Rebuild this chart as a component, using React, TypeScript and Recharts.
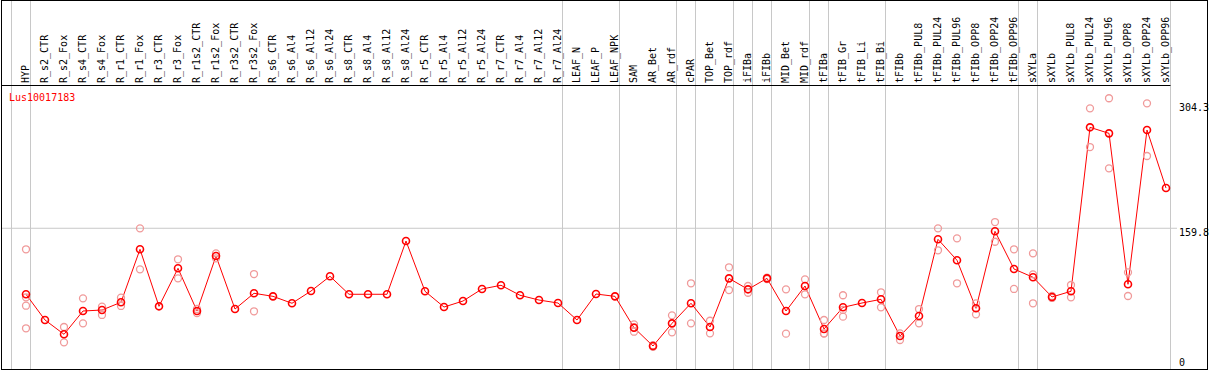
import React from 'react';
import { ComposedChart, Line, XAxis, YAxis, ReferenceLine } from 'recharts';

const title = 'Lus10017183';

const categories = [
  'HYP', 'R_s2_CTR', 'R_s2_Fox', 'R_s4_CTR', 'R_s4_Fox', 'R_r1_CTR', 'R_r1_Fox', 'R_r3_CTR', 'R_r3_Fox',
  'R_r1s2_CTR', 'R_r1s2_Fox', 'R_r3s2_CTR', 'R_r3s2_Fox', 'R_s6_CTR', 'R_s6_Al4', 'R_s6_Al12', 'R_s6_Al24',
  'R_s8_CTR', 'R_s8_Al4', 'R_s8_Al12', 'R_s8_Al24', 'R_r5_CTR', 'R_r5_Al4', 'R_r5_Al12', 'R_r5_Al24',
  'R_r7_CTR', 'R_r7_Al4', 'R_r7_Al12', 'R_r7_Al24', 'LEAF_N', 'LEAF_P', 'LEAF_NPK', 'SAM', 'AR_Bet', 'AR_rdf',
  'cPAR', 'TOP_Bet', 'TOP_rdf', 'iFIBa', 'iFIBb', 'MID_Bet', 'MID_rdf', 'tFIBa', 'tFIB_Gr', 'tFIB_Li', 'tFIB_Bi',
  'tFIBb', 'tFIBb_PUL8', 'tFIBb_PUL24', 'tFIBb_PUL96', 'tFIBb_OPP8', 'tFIBb_OPP24', 'tFIBb_OPP96', 'sXYLa',
  'sXYLb', 'sXYLb_PUL8', 'sXYLb_PUL24', 'sXYLb_PUL96', 'sXYLb_OPP8', 'sXYLb_OPP24', 'sXYLb_OPP96',
];

const means = [
  86.4, 57.8, 41.9, 67.8, 68.9, 77.5, 136.4, 73.0, 115.3, 67.8, 128.9, 70.0, 87.5, 84.1, 76.4, 90.0, 106.4,
  86.4, 86.4, 86.4, 145.6, 89.7, 72.2, 78.9, 92.3, 96.4, 85.3, 80.0, 76.7, 57.8, 86.7, 84.1, 49.2, 28.9, 54.1,
  76.4, 50.0, 104.1, 91.9, 104.1, 67.8, 95.6, 47.8, 71.9, 76.7, 80.8, 40.0, 62.2, 147.5, 124.2, 70.8, 156.4,
  114.5, 105.3, 83.4, 89.7, 272.0, 265.3, 97.5, 269.0, 204.5,
];

// replicate measurements per category
const replicates: number[][] = [
  [136.4, 83.0, 73.7, 48.6], [], [50.0, 33.0], [81.9, 54.1], [72.6, 63.4], [82.6, 73.4], [159.7, 114.1], [],
  [125.3, 104.1], [70.1, 65.5], [131.9, 126.4], [], [108.9, 67.5], [], [], [], [],
  [], [], [], [], [], [], [], [],
  [], [], [], [], [], [], [], [53.0, 44.8, 49.8], [29.8, 28.0], [63.0, 44.1],
  [98.6, 54.1], [57.0, 43.0], [116.4, 91.1], [95.6, 88.1], [104.9, 103.3], [91.9, 42.6], [103.0, 86.4],
  [57.8, 43.0, 42.6], [85.3, 61.5, 69.0], [], [88.6, 71.9],
  [43.0, 35.6], [70.0, 54.1], [159.7, 135.3], [148.6, 98.6], [76.4, 64.1], [166.7, 144.8], [136.4, 92.3],
  [131.9, 76.4, 108.6], [84.5, 82.3], [96.7, 83.0], [293.1, 250.1], [304.3, 226.4], [110.8, 84.5],
  [298.7, 240.1], [],
];

// group boundaries: drawn after these category indices
const groupEnds = [-1, 0, 28, 31, 34, 35, 37, 38, 39, 41, 42, 45, 52, 53, 60];

const yTicks = [0, 159.8, 304.3];
const yMax = 318.5;

const data = categories.map((c, i) => {
  const row: any = { idx: i, name: c, mean: means[i] };
  for (let k = 0; k < 4; k++) row['rep' + k] = replicates[i][k] ?? null;
  return row;
});

const X_MIN = -25 / 19;
const X_MAX = 1151 / 19;
const BOUND_OFF = 4.5 / 19;

const FONT = '"DejaVu Sans Mono", monospace';

const XTick = (p: any) => {
  const i = p.payload.value;
  return (
    <text
      transform={`translate(${p.x + 2.5},83) rotate(-90)`}
      textAnchor="start"
      fontFamily={FONT}
      fontSize={10}
      fill="#000"
    >
      {categories[i]}
    </text>
  );
};

const YTick = (p: any) => {
  const v = p.payload.value;
  let dy = 4;
  if (v === 0) dy = -10;
  else if (v === yTicks[yTicks.length - 1]) dy = 9;
  return (
    <text x={p.x} y={p.y + dy} dominantBaseline="central" textAnchor="start" fontFamily={FONT} fontSize={10} fill="#000">
      {v === 0 ? '0' : v.toFixed(1)}
    </text>
  );
};

const VLine = (p: any) => (
  <line x1={p.x1} x2={p.x2} y1={0} y2={p.y2} stroke="#c8c8c8" strokeWidth={1} />
);

const repDot = (p: any) => {
  if (p.value == null || p.cy == null || isNaN(p.cy)) return <g key={`e-${p.dataKey}-${p.index}`} />;
  return (
    <circle key={`r-${p.dataKey}-${p.index}`} cx={p.cx} cy={p.cy} r={3.5} fill="none" stroke="#f09a9a" strokeWidth={1.3} />
  );
};

const meanDot = (p: any) => (
  <circle key={`m-${p.index}`} cx={p.cx} cy={p.cy} r={3.5} fill="none" stroke="#ff0000" strokeWidth={1.6} />
);

export default function App() {
  return (
    <div style={{ position: 'absolute', left: 0, top: 0, width: 1209, height: 370, overflow: 'hidden', background: '#fff' }}>
      <ComposedChart
        width={1209}
        height={373}
        data={data}
        margin={{ top: 0.5, right: 0, bottom: 1, left: 1 }}
      >
        <XAxis
          xAxisId={0}
          type="number"
          dataKey="idx"
          orientation="top"
          height={85}
          domain={[X_MIN, X_MAX]}
          allowDataOverflow
          ticks={categories.map((_, i) => i)}
          interval={0}
          tick={<XTick />}
          tickLine={false}
          axisLine={false}
        />
        <YAxis
          yAxisId={0}
          orientation="right"
          width={32}
          domain={[0, yMax]}
          ticks={yTicks}
          interval={0}
          tick={<YTick />}
          tickLine={false}
          tickSize={0}
          tickMargin={2}
          axisLine={false}
        />
        {groupEnds.map((g) => (
          <ReferenceLine key={'g' + g} x={g + BOUND_OFF} stroke="#c8c8c8" shape={VLine} />
        ))}
        <ReferenceLine y={yTicks[1]} stroke="#c8c8c8" />
        <ReferenceLine
          segment={[{ x: X_MIN, y: yMax }, { x: groupEnds[groupEnds.length - 1] + BOUND_OFF, y: yMax }]}
          stroke="#000"
        />
        {[0, 1, 2, 3].map((k) => (
          <Line
            key={'rep' + k}
            dataKey={'rep' + k}
            stroke="none"
            strokeWidth={0}
            dot={repDot}
            activeDot={false}
            isAnimationActive={false}
            connectNulls={false}
          />
        ))}
        <Line
          dataKey="mean"
          type="linear"
          stroke="#ff0000"
          strokeWidth={1}
          dot={meanDot}
          activeDot={false}
          isAnimationActive={false}
        />
      </ComposedChart>
      <svg width={1209} height={370} style={{ position: 'absolute', left: 0, top: 0, pointerEvents: 'none' }}>
        <rect x={1.5} y={0.5} width={1206} height={369} fill="none" stroke="#000" strokeWidth={1} />
        <text x={9} y={101} fontFamily={FONT} fontSize={10} fill="#ff0000">{title}</text>
      </svg>
    </div>
  );
}
